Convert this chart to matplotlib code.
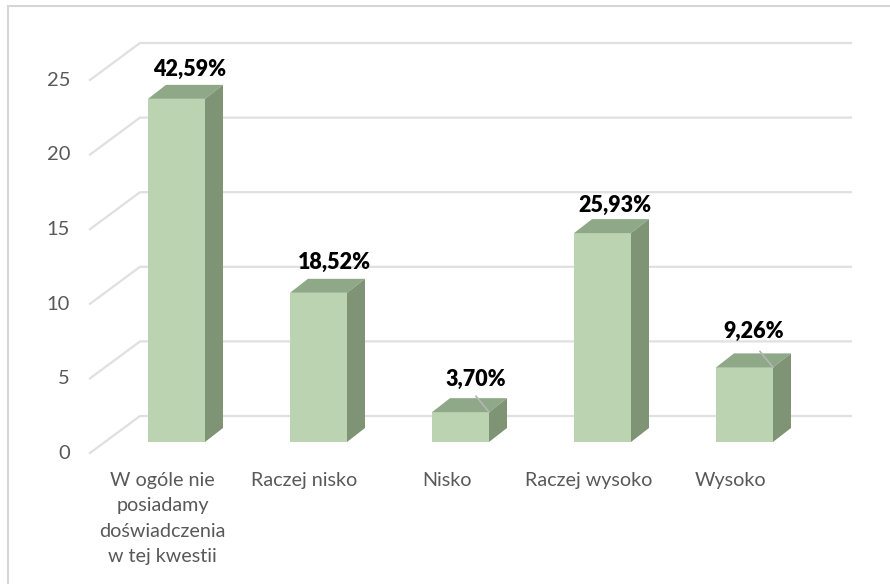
import matplotlib
matplotlib.use('Agg')
import matplotlib.pyplot as plt
from matplotlib.lines import Line2D
from matplotlib.patches import Polygon

plt.rcParams['font.family'] = ['Lato', 'DejaVu Sans']

# dane
kategorie = ['W ogóle nie\nposiadamy\ndoświadczenia\nw tej kwestii', 'Raczej nisko', 'Nisko',
             'Raczej wysoko', 'Wysoko']
wartosci = [23, 10, 2, 14, 5]
procenty = ['42,59%', '18,52%', '3,70%', '25,93%', '9,26%']
podzialka = [0, 5, 10, 15, 20, 25]

# skala w pikselach
W, H = 890, 584
px_x = 142.0   # piksele na kategorie
px_y = 14.92   # piksele na jednostke
x0_px = 176.5
y0_px = 442.0

def dx(p):
    return p / px_x

def dy(p):
    return p / px_y

fig = plt.figure(figsize=(W / 100, H / 100), dpi=100, facecolor='white')
ax = fig.add_axes([0, 0, 1, 1])
ax.set_xlim(-x0_px / px_x, (W - x0_px) / px_x)
ax.set_ylim(-(H - y0_px) / px_y, y0_px / px_y)
ax.axis('off')

# ramka: tylko lewa i gorna krawedz
fig.add_artist(Line2D([8 / W, 8 / W, 1], [0, 1 - 6 / H, 1 - 6 / H], transform=fig.transFigure,
                      color='#D6D6D6', lw=1.5, solid_joinstyle='miter'))

# siatka: sciana tylna i podloga/bok
lewo_przod = dx(90 - x0_px)
lewo_tyl = dx(140 - x0_px)
prawo = dx(851 - x0_px)
przod_y = dy(-11)
tyl_y = dy(26)
for v in podzialka:
    ax.plot([lewo_przod, lewo_tyl, prawo], [v + przod_y, v + tyl_y, v + tyl_y],
            color='#E0E0E0', lw=1.6, solid_joinstyle='miter', zorder=1)
    ax.text(dx(70 - x0_px), v + przod_y - dy(0.3), str(v), ha='right', va='center',
            fontsize=14.5, color='#595959')

# slupki 3D
szer = 57 / px_x
gl_x = dx(18)
gl_y = dy(14)
for i, v in enumerate(wartosci):
    l = i - szer / 2
    r = i + szer / 2
    ax.bar(i, v, width=szer, color='#BBD3B0', zorder=3)
    ax.add_patch(Polygon([(l, v), (r, v), (r + gl_x, v + gl_y), (l + gl_x, v + gl_y)],
                         closed=True, fc='#8FA888', ec='none', zorder=3))
    ax.add_patch(Polygon([(r, 0), (r + gl_x, gl_y), (r + gl_x, v + gl_y), (r, v)],
                         closed=True, fc='#7F9475', ec='none', zorder=3))

# etykiety danych
przes_x = [13, 16, 15, 12, 9]
przes_y = [29, 30, 33, 28, 36]
for i, v in enumerate(wartosci):
    ax.text(i + dx(przes_x[i]), v + dy(przes_y[i]), procenty[i], ha='center', va='center',
            fontsize=15.5, fontweight='heavy', color='black', zorder=5)

# linie odniesienia
for i in [2, 4]:
    r = i + szer / 2
    v = wartosci[i]
    ax.plot([r, r - dx(13)], [v, v + dy(16)], color='#B5B5B8', lw=1.2, zorder=4)

# kategorie
for i, k in enumerate(kategorie):
    ax.text(i - dx(14), dy(-30), k, ha='center', va='top', fontsize=14.2, color='#595959',
            linespacing=1.6)

fig.savefig('out.png', dpi=100)
